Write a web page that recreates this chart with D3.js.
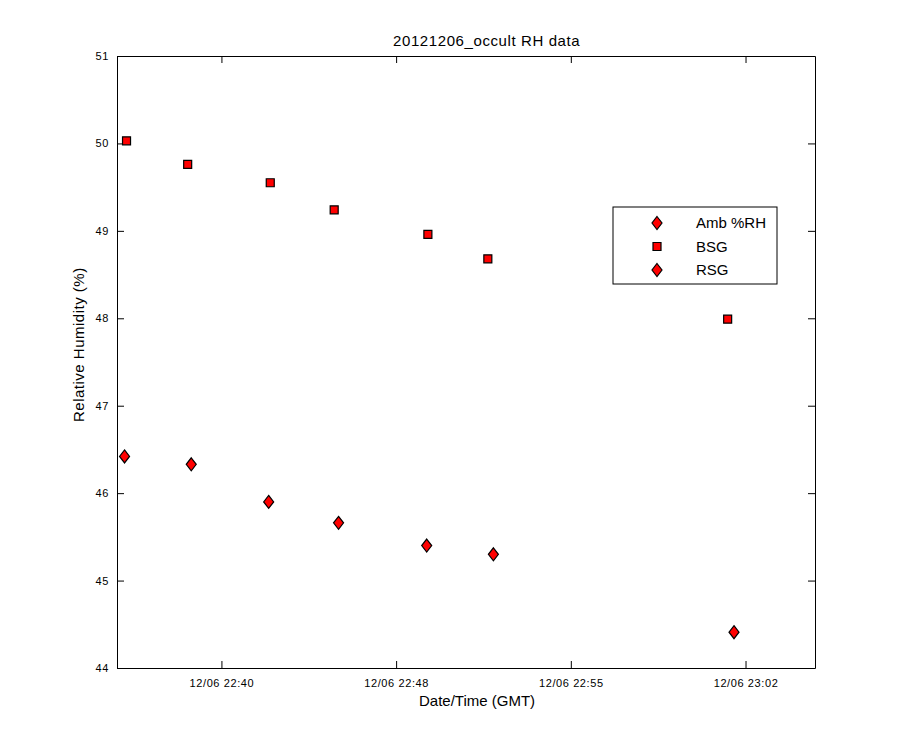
<!DOCTYPE html>
<html>
<head>
<meta charset="utf-8">
<script src="https://cdn.jsdelivr.net/npm/d3@7"></script>
<style>
  body { margin: 0; background: #fff; }
  svg { font-family: "Liberation Sans", Arial, sans-serif; }
</style>
</head>
<body>
<script>
// sample times (GMT, 2012-12-06) and readings
var bsgTimes = ['22:36:41', '22:39:15', '22:42:43', '22:45:24', '22:49:20', '22:51:51', '23:01:55'];
var bsgValues = [50.03, 49.76, 49.55, 49.24, 48.96, 48.68, 47.99];
var rsgTimes = ['22:36:36', '22:39:24', '22:42:39', '22:45:35', '22:49:17', '22:52:05', '23:02:11'];
var rsgValues = [46.42, 46.33, 45.90, 45.66, 45.40, 45.30, 44.41];
// ambient channel has no valid readings in this run
var ambTimes = [];
var ambValues = [];

var xDomain = ['22:36:17', '23:05:35'];
var xTicks = ['22:40:40', '22:48:00', '22:55:20', '23:02:40'];
var yTicks = [44, 45, 46, 47, 48, 49, 50, 51];
var seriesNames = ['Amb %RH', 'BSG', 'RSG'];

var width = 900;
var height = 750;
var margin = { left: 117, right: 85, top: 56, bottom: 82 };

var parseTime = d3.utcParse('%Y-%m-%d %H:%M:%S');
function toDate(t) { return parseTime('2012-12-06 ' + t); }

function pairs(times, values) {
  return times.map(function(t, i) { return { t: toDate(t), v: values[i] }; });
}

var series = [
  { name: seriesNames[0], shape: 'diamond', data: pairs(ambTimes, ambValues) },
  { name: seriesNames[1], shape: 'square', data: pairs(bsgTimes, bsgValues) },
  { name: seriesNames[2], shape: 'diamond', data: pairs(rsgTimes, rsgValues) }
];

var x = d3.scaleUtc()
  .domain(xDomain.map(toDate))
  .range([margin.left, width - margin.right]);

var y = d3.scaleLinear()
  .domain([44, 51])
  .range([height - margin.bottom, margin.top]);

var svg = d3.select('body').append('svg')
  .attr('width', width)
  .attr('height', height);

var fmt = d3.utcFormat('%m/%d %H:%M');
var tickDates = xTicks.map(toDate);

// axes, MATLAB style: ticks point inward, mirrored on the box
var xAxis = d3.axisBottom(x).tickValues(tickDates).tickFormat(fmt).tickSizeInner(-7).tickSizeOuter(0).tickPadding(11);
var xAxisTop = d3.axisTop(x).tickValues(tickDates).tickFormat('').tickSizeInner(-7).tickSizeOuter(0);
var yAxis = d3.axisLeft(y).tickValues(yTicks).tickFormat(d3.format('d')).tickSizeInner(-7).tickSizeOuter(0).tickPadding(8);
var yAxisRight = d3.axisRight(y).tickValues(yTicks).tickFormat('').tickSizeInner(-7).tickSizeOuter(0);

function styleAxis(g) {
  g.select('.domain').attr('stroke', '#000').attr('stroke-width', 1);
  g.selectAll('.tick line').attr('stroke', '#000');
  g.selectAll('.tick text').attr('fill', '#000')
    .style('font-size', '11px')
    .style('letter-spacing', '0.6px');
}

svg.append('g')
  .attr('transform', 'translate(0,' + (height - margin.bottom) + ')')
  .call(xAxis).call(styleAxis);
svg.append('g')
  .attr('transform', 'translate(0,' + margin.top + ')')
  .call(xAxisTop).call(styleAxis);
svg.append('g')
  .attr('transform', 'translate(' + margin.left + ',0)')
  .call(yAxis).call(styleAxis);
svg.append('g')
  .attr('transform', 'translate(' + (width - margin.right) + ',0)')
  .call(yAxisRight).call(styleAxis);

svg.append('text')
  .attr('x', 393).attr('y', 46)
  .style('font-size', '15px')
  .style('letter-spacing', '0.6px')
  .text('20121206_occult RH data');

svg.append('text')
  .attr('x', 419).attr('y', 706)
  .style('font-size', '15px')
  .text('Date/Time (GMT)');

svg.append('text')
  .attr('transform', 'translate(84,422) rotate(-90)')
  .style('font-size', '15px')
  .style('letter-spacing', '0.5px')
  .text('Relative Humidity (%)');

var diamond = 'M0,-6.5L5,0L0,6.5L-5,0Z';
var square = 'M-4,-4L4,-4L4,4L-4,4Z';
function markerPath(s) { return s === 'square' ? square : diamond; }

function drawMarker(sel, s) {
  sel.append('path')
    .attr('d', markerPath(s))
    .attr('fill', '#ff0000')
    .attr('stroke', '#000')
    .attr('stroke-width', 1.2);
}

var plot = svg.append('g');
series.forEach(function(s) {
  plot.append('g').selectAll('g')
    .data(s.data)
    .join('g')
    .attr('transform', function(d) { return 'translate(' + x(d.t) + ',' + y(d.v) + ')'; })
    .each(function() { drawMarker(d3.select(this), s.shape); });
});

// legend
var legend = svg.append('g').attr('transform', 'translate(613,207)');
legend.append('rect')
  .attr('width', 164).attr('height', 77)
  .attr('fill', '#fff').attr('stroke', '#000');

var rows = legend.selectAll('g.row')
  .data(series)
  .join('g')
  .attr('class', 'row')
  .attr('transform', function(d, i) { return 'translate(0,' + (16 + i * 23.5) + ')'; });

rows.each(function(d) {
  var g = d3.select(this).append('g').attr('transform', 'translate(44,0)');
  drawMarker(g, d.shape);
});
rows.append('text')
  .attr('x', 83).attr('y', 5)
  .style('font-size', '15px')
  .text(function(d) { return d.name; });
</script>
</body>
</html>
